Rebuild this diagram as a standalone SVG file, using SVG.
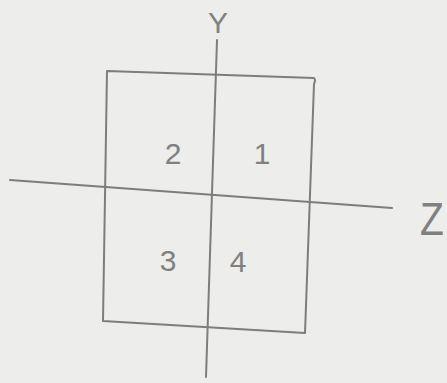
<svg xmlns="http://www.w3.org/2000/svg" width="447" height="383" viewBox="0 0 447 383">
<style>
.ln{stroke:#7d7d7d;stroke-width:2;fill:none;stroke-linecap:round;stroke-linejoin:round}
.t{font-family:"Liberation Sans","DejaVu Sans",sans-serif;fill:#808080;text-anchor:middle}
</style>
<rect width="447" height="383" fill="#ededeb"/>
<g id="box">
<path class="ln" d="M107,71 L314,78 Q316,80 314,84 L305,333 L103,321 Z"/>
</g>
<g id="axes">
<path id="y-axis" class="ln" d="M217,40 L206,377"/>
<path id="z-axis" class="ln" d="M10,180 L392,208"/>
</g>
<g id="labels">
<text class="t" x="218" y="33" font-size="30">Y</text>
<text class="t" x="432" y="235" font-size="46" transform="translate(432 235) scale(0.85 1) translate(-432 -235)">Z</text>
<text class="t" x="173" y="164" font-size="30">2</text>
<text class="t" x="262" y="164" font-size="30">1</text>
<text class="t" x="168" y="271" font-size="30">3</text>
<text class="t" x="238" y="272" font-size="30">4</text>
</g>
</svg>
